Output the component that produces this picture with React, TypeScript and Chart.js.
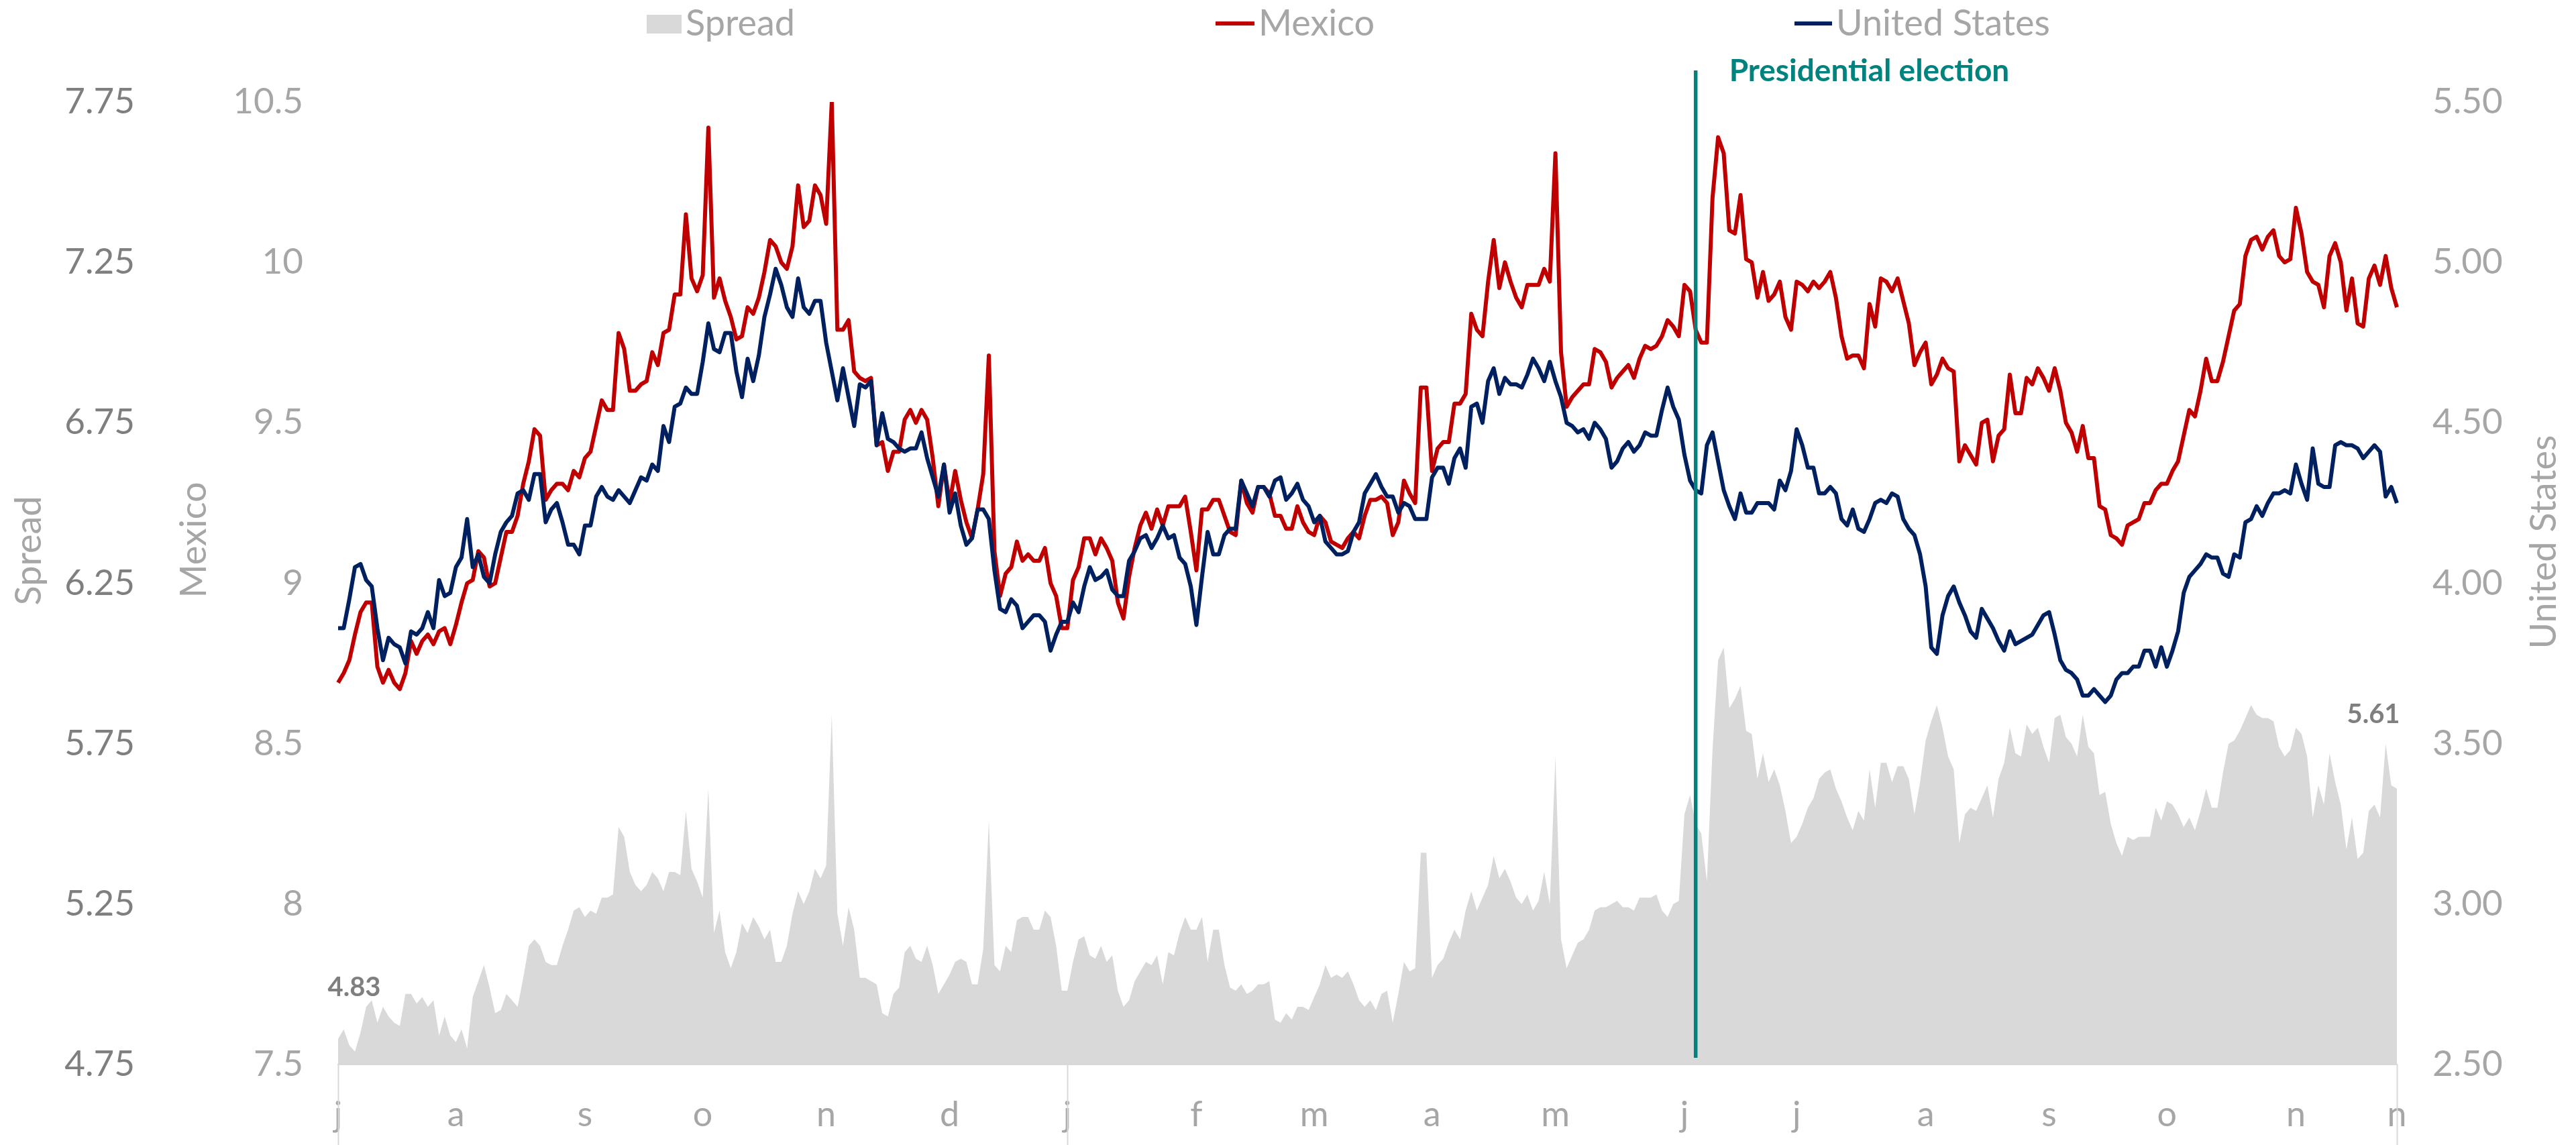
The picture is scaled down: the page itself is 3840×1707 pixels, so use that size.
import React, { useEffect, useRef } from 'react';
import { Chart, registerables } from 'chart.js';

Chart.register(...registerables);

const FONT = 'Lato, "Open Sans", "DejaVu Sans", sans-serif';
const RED = '#c00000';
const NAVY = '#002060';
const TEAL = '#00837e';
const AREA = '#d9d9d9';
const LIGHT = '#a6a6a6';
const DARK = '#7f7f7f';

// x axis: business days, first letter of each month at its first business day
const monthLetters = ['j', 'a', 's', 'o', 'n', 'd', 'j', 'f', 'm', 'a', 'm', 'j', 'j', 'a', 's', 'o', 'n', 'n'];
const monthStartIdx = [0, 21, 44, 65, 87, 109, 130, 153, 174, 195, 217, 240, 260, 283, 305, 326, 349, 367];
const yearBreakIdx = [0, 130, 367];
const electionIdx = 242;
const electionLabel = 'Presidential election';

const axisTitles = { spread: 'Spread', mexico: 'Mexico', us: 'United States' };

// Mexico 10y yield (%)
const mexico = [
  8.69, 8.72, 8.76, 8.84, 8.91, 8.94, 8.94, 8.74, 8.69, 8.73, 8.69, 8.67, 8.72, 8.82, 8.78, 8.82, 8.84, 8.81, 8.85, 8.86,
  8.81, 8.87, 8.94, 9.00, 9.01, 9.10, 9.08, 8.99, 9.00, 9.08, 9.16, 9.16, 9.21, 9.31, 9.38, 9.48, 9.46, 9.26, 9.29, 9.31,
  9.31, 9.29, 9.35, 9.33, 9.39, 9.41, 9.49, 9.57, 9.54, 9.54, 9.78, 9.73, 9.60, 9.60, 9.62, 9.63, 9.72, 9.68, 9.78, 9.79,
  9.90, 9.90, 10.15, 9.95, 9.91, 9.96, 10.42, 9.89, 9.95, 9.88, 9.83, 9.76, 9.77,
  9.86, 9.84, 9.89, 9.97, 10.07, 10.05, 10.00, 9.98, 10.05, 10.24, 10.11, 10.13, 10.24, 10.21, 10.12, 10.50, 9.79, 9.79, 9.82, 9.66,
  9.64, 9.63, 9.64, 9.43, 9.44, 9.35, 9.41, 9.41, 9.51, 9.54, 9.50, 9.54, 9.51, 9.39, 9.24, 9.37, 9.25, 9.35, 9.26, 9.19,
  9.14, 9.23, 9.34, 9.71, 9.10, 8.96, 9.03, 9.05, 9.13, 9.07, 9.09, 9.07, 9.07, 9.11, 9.00, 8.96, 8.86, 8.86, 9.01, 9.05,
  9.14, 9.14, 9.09, 9.14, 9.11, 9.07, 8.94, 8.89, 9.02, 9.11, 9.18, 9.22, 9.17, 9.23,
  9.18, 9.24, 9.24, 9.24, 9.27, 9.16, 9.04, 9.23, 9.23, 9.26, 9.26, 9.21, 9.16, 9.15, 9.32, 9.25, 9.22, 9.30, 9.30, 9.28,
  9.21, 9.21, 9.17, 9.17, 9.24, 9.19, 9.16, 9.15, 9.21, 9.19, 9.13, 9.12, 9.11, 9.14, 9.16, 9.14, 9.21, 9.26, 9.26, 9.27,
  9.25, 9.15, 9.19, 9.32, 9.28, 9.25, 9.61, 9.61, 9.35, 9.42, 9.44, 9.44, 9.56, 9.56, 9.59, 9.84, 9.79, 9.77, 9.94, 10.07,
  9.92, 10.00, 9.94, 9.89, 9.86, 9.93, 9.93, 9.93, 9.98, 9.94, 10.34, 9.72, 9.55, 9.58,
  9.60, 9.62, 9.62, 9.73, 9.72, 9.69, 9.61, 9.64, 9.66, 9.68, 9.64, 9.70, 9.74, 9.73, 9.74, 9.77, 9.82, 9.80, 9.77, 9.93,
  9.91, 9.79, 9.75, 9.75, 10.20, 10.39, 10.34, 10.10, 10.09, 10.21, 10.01, 10.00, 9.89, 9.97, 9.88, 9.90, 9.94, 9.83, 9.79, 9.94,
  9.93, 9.91, 9.94, 9.92, 9.94, 9.97, 9.89, 9.77, 9.70, 9.71, 9.71, 9.67, 9.87, 9.80, 9.95, 9.94, 9.91, 9.95, 9.88, 9.81,
  9.68, 9.72, 9.75, 9.62, 9.65, 9.70, 9.67, 9.66, 9.38, 9.43, 9.40, 9.37, 9.50,
  9.51, 9.38, 9.46, 9.48, 9.65, 9.53, 9.53, 9.64, 9.62, 9.67, 9.64, 9.60, 9.67, 9.60, 9.50, 9.47, 9.41, 9.49, 9.39, 9.39,
  9.24, 9.23, 9.15, 9.14, 9.12, 9.18, 9.19, 9.20, 9.25, 9.25, 9.29, 9.31, 9.31, 9.35, 9.38, 9.46, 9.54, 9.52, 9.60, 9.70,
  9.63, 9.63, 9.69, 9.77, 9.85, 9.87, 10.02, 10.07, 10.08, 10.04, 10.08, 10.10, 10.02, 10.00, 10.01, 10.17, 10.09, 9.97, 9.94, 9.93,
  9.86, 10.02, 10.06, 10.00, 9.85, 9.95, 9.81, 9.80, 9.95, 9.99, 9.93, 10.02, 9.92, 9.86,
];

// United States 10y yield (%)
const unitedStates = [
  3.86, 3.86, 3.95, 4.05, 4.06, 4.01, 3.99, 3.86, 3.76, 3.83, 3.81, 3.80, 3.75, 3.85, 3.84, 3.86, 3.91, 3.86, 4.01, 3.96,
  3.97, 4.05, 4.08, 4.20, 4.05, 4.09, 4.02, 4.00, 4.09, 4.16, 4.19, 4.21, 4.28, 4.29, 4.26, 4.34, 4.34, 4.19, 4.23, 4.25,
  4.19, 4.12, 4.12, 4.09, 4.18, 4.18, 4.27, 4.30, 4.27, 4.26, 4.29, 4.27, 4.25, 4.29, 4.33, 4.32, 4.37, 4.35, 4.49, 4.44,
  4.55, 4.56, 4.61, 4.59, 4.59, 4.69, 4.81, 4.73, 4.72, 4.78, 4.78, 4.66, 4.58,
  4.70, 4.63, 4.71, 4.83, 4.90, 4.98, 4.93, 4.86, 4.83, 4.95, 4.86, 4.84, 4.88, 4.88, 4.75, 4.66, 4.57, 4.67, 4.58, 4.49,
  4.62, 4.61, 4.63, 4.43, 4.53, 4.45, 4.44, 4.42, 4.41, 4.42, 4.42, 4.47, 4.39, 4.33, 4.27, 4.37, 4.22, 4.28, 4.18, 4.12,
  4.14, 4.23, 4.23, 4.20, 4.04, 3.92, 3.91, 3.95, 3.93, 3.86, 3.88, 3.90, 3.90, 3.88, 3.79, 3.84, 3.88, 3.88, 3.94, 3.91,
  3.99, 4.05, 4.01, 4.02, 4.04, 3.98, 3.96, 3.96, 4.07, 4.10, 4.14, 4.15, 4.11, 4.14,
  4.18, 4.14, 4.15, 4.08, 4.06, 3.99, 3.87, 4.02, 4.16, 4.09, 4.09, 4.15, 4.17, 4.17, 4.32, 4.28, 4.24, 4.30, 4.30, 4.27,
  4.32, 4.33, 4.26, 4.28, 4.31, 4.26, 4.24, 4.19, 4.21, 4.13, 4.11, 4.09, 4.09, 4.10, 4.16, 4.19, 4.28, 4.31, 4.34, 4.30,
  4.27, 4.27, 4.22, 4.25, 4.24, 4.20, 4.20, 4.20, 4.33, 4.36, 4.36, 4.31, 4.39, 4.42, 4.36, 4.55, 4.56, 4.50, 4.63, 4.67,
  4.59, 4.64, 4.62, 4.62, 4.61, 4.65, 4.70, 4.67, 4.63, 4.69, 4.63, 4.58, 4.50, 4.49,
  4.47, 4.48, 4.45, 4.50, 4.48, 4.45, 4.36, 4.38, 4.42, 4.44, 4.41, 4.43, 4.47, 4.46, 4.46, 4.54, 4.61, 4.55, 4.51, 4.40,
  4.32, 4.29, 4.28, 4.43, 4.47, 4.38, 4.29, 4.24, 4.20, 4.28, 4.22, 4.22, 4.25, 4.25, 4.25, 4.23, 4.32, 4.29, 4.35, 4.48,
  4.43, 4.36, 4.36, 4.28, 4.28, 4.30, 4.28, 4.20, 4.18, 4.23, 4.17, 4.16, 4.20, 4.25, 4.26, 4.25, 4.28, 4.27, 4.20, 4.17,
  4.15, 4.09, 3.99, 3.80, 3.78, 3.90, 3.96, 3.99, 3.94, 3.90, 3.85, 3.83, 3.92,
  3.89, 3.86, 3.82, 3.79, 3.85, 3.81, 3.82, 3.83, 3.84, 3.87, 3.90, 3.91, 3.84, 3.76, 3.73, 3.72, 3.70, 3.65, 3.65, 3.67,
  3.65, 3.63, 3.65, 3.70, 3.72, 3.72, 3.74, 3.74, 3.79, 3.79, 3.74, 3.80, 3.74, 3.79, 3.85, 3.97, 4.02, 4.04, 4.06, 4.09,
  4.08, 4.08, 4.03, 4.02, 4.09, 4.08, 4.19, 4.20, 4.24, 4.21, 4.25, 4.28, 4.28, 4.29, 4.28, 4.37, 4.31, 4.26, 4.42, 4.31,
  4.30, 4.30, 4.43, 4.44, 4.43, 4.43, 4.42, 4.39, 4.41, 4.43, 4.41, 4.27, 4.30, 4.25,
];

// axis ranges
const spreadRange = [4.75, 7.75];
const mexicoRange = [7.5, 10.5];
const usRange = [2.5, 5.5];
const tickStep = 0.5;

export default function App() {
  const ref = useRef<HTMLCanvasElement>(null);

  useEffect(() => {
    if (!ref.current) return;
    const n = mexico.length;
    const labels = Array.from({ length: n }, (_, i) => {
      const k = monthStartIdx.indexOf(i);
      return k >= 0 ? monthLetters[k] : '';
    });
    // Spread = Mexico - United States
    const spread = mexico.map((m, i) => Math.round((m - unitedStates[i]) * 100) / 100);

    const extras = {
      id: 'extras',
      afterDatasetsDraw(chart: any) {
        const ctx = chart.ctx;
        const area = chart.chartArea;
        const xs = chart.scales.x;
        ctx.save();
        // election marker
        const ex = xs.getPixelForValue(electionIdx);
        ctx.strokeStyle = TEAL;
        ctx.lineWidth = 5.5;
        ctx.beginPath();
        ctx.moveTo(ex, 105);
        ctx.lineTo(ex, area.bottom - 10);
        ctx.stroke();
        ctx.fillStyle = TEAL;
        ctx.font = `bold 46px ${FONT}`;
        ctx.textAlign = 'left';
        ctx.textBaseline = 'alphabetic';
        ctx.fillText(electionLabel, ex + 50, 121);
        // first / last spread labels
        const meta = chart.getDatasetMeta(0);
        const first = meta.data[0];
        const last = meta.data[n - 1];
        ctx.fillStyle = DARK;
        ctx.font = `bold 40px ${FONT}`;
        ctx.textAlign = 'center';
        ctx.textBaseline = 'middle';
        ctx.fillText(spread[0].toFixed(2), first.x + 24, first.y - 77);
        ctx.fillText(spread[n - 1].toFixed(2), last.x - 35, last.y - 111);
        ctx.restore();
      },
      afterDraw(chart: any) {
        const ctx = chart.ctx;
        const area = chart.chartArea;
        const xs = chart.scales.x;
        ctx.save();
        // year separators below the axis
        ctx.strokeStyle = AREA;
        ctx.lineWidth = 2;
        yearBreakIdx.forEach((i) => {
          const px = Math.round(xs.getPixelForValue(i)) + 0.5;
          ctx.beginPath();
          ctx.moveTo(px, area.bottom);
          ctx.lineTo(px, chart.height);
          ctx.stroke();
        });
        // axis titles (rotated)
        ctx.font = `54px ${FONT}`;
        ctx.fillStyle = LIGHT;
        const vTitle = (text: string, x: number, y: number) => {
          ctx.save();
          ctx.translate(x, y);
          ctx.rotate(-Math.PI / 2);
          ctx.textAlign = 'center';
          ctx.textBaseline = 'alphabetic';
          ctx.fillText(text, 0, 0);
          ctx.restore();
        };
        vTitle(axisTitles.spread, 61, 821);
        vTitle(axisTitles.mexico, 307, 805);
        vTitle(axisTitles.us, 3810, 808);
        // legend
        const ds = chart.data.datasets;
        ctx.font = `54px ${FONT}`;
        ctx.textAlign = 'left';
        ctx.textBaseline = 'alphabetic';
        const baseY = 53;
        ctx.fillStyle = AREA;
        ctx.fillRect(964, 22, 52, 28);
        ctx.fillStyle = LIGHT;
        ctx.fillText(ds[0].label, 1022, baseY);
        ctx.strokeStyle = RED;
        ctx.lineWidth = 6;
        ctx.beginPath();
        ctx.moveTo(1812, 35);
        ctx.lineTo(1870, 35);
        ctx.stroke();
        ctx.fillText(ds[1].label, 1876, baseY);
        ctx.strokeStyle = NAVY;
        ctx.beginPath();
        ctx.moveTo(2675, 35);
        ctx.lineTo(2731, 35);
        ctx.stroke();
        ctx.fillText(ds[2].label, 2737, baseY);
        ctx.restore();
      },
    };

    const yTicks = (color: string, padding: number, fmt: (v: number) => string) => ({
      stepSize: tickStep,
      color,
      padding,
      font: { family: FONT, size: 53 },
      callback: (v: any) => fmt(Number(v)),
    });

    const chart = new Chart(ref.current, {
      type: 'line',
      data: {
        labels,
        datasets: [
          {
            label: 'Spread',
            data: spread,
            yAxisID: 'ySpread',
            fill: 'start',
            backgroundColor: AREA,
            borderColor: 'transparent',
            borderWidth: 0,
            pointRadius: 0,
            order: 3,
          },
          {
            label: 'Mexico',
            data: mexico,
            yAxisID: 'yMex',
            borderColor: RED,
            borderWidth: 6,
            borderJoinStyle: 'round',
            pointRadius: 0,
            fill: false,
            order: 2,
          },
          {
            label: 'United States',
            data: unitedStates,
            yAxisID: 'yUS',
            borderColor: NAVY,
            borderWidth: 6,
            borderJoinStyle: 'round',
            pointRadius: 0,
            fill: false,
            order: 1,
          },
        ],
      },
      options: {
        animation: false,
        responsive: true,
        maintainAspectRatio: false,
        layout: { padding: { top: 152, left: 0, right: 0, bottom: 0 } },
        plugins: {
          legend: { display: false },
          tooltip: { enabled: false },
        },
        scales: {
          x: {
            type: 'category',
            offset: false,
            grid: { display: false, drawTicks: false },
            border: { display: true, color: AREA, width: 2 },
            ticks: {
              autoSkip: false,
              maxRotation: 0,
              minRotation: 0,
              color: LIGHT,
              padding: 44,
              font: { family: FONT, size: 52 },
              callback: (_v: any, i: number) => (labels[i] ? labels[i] : null),
            },
            afterFit: (s: any) => {
              s.height = 120;
            },
          },
          ySpread: {
            type: 'linear',
            position: 'left',
            weight: 2,
            min: spreadRange[0],
            max: spreadRange[1],
            grid: { display: false, drawTicks: false },
            border: { display: false },
            ticks: yTicks(DARK, 14, (v) => v.toFixed(2)),
            afterFit: (s: any) => {
              s.width = 215;
            },
          },
          yMex: {
            type: 'linear',
            position: 'left',
            weight: 1,
            min: mexicoRange[0],
            max: mexicoRange[1],
            grid: { display: false, drawTicks: false },
            border: { display: false },
            ticks: yTicks(LIGHT, 52, (v) => String(v)),
            afterFit: (s: any) => {
              s.width = 289;
            },
          },
          yUS: {
            type: 'linear',
            position: 'right',
            min: usRange[0],
            max: usRange[1],
            grid: { display: false, drawTicks: false },
            border: { display: false },
            ticks: yTicks(LIGHT, 53, (v) => v.toFixed(2)),
            afterFit: (s: any) => {
              s.width = 267;
            },
          },
        },
      },
      plugins: [extras],
    } as any);

    return () => chart.destroy();
  }, []);

  return (
    <div style={{ position: 'fixed', left: 0, top: 0, width: 3840, height: 1707, background: '#ffffff' }}>
      <canvas ref={ref} />
    </div>
  );
}
